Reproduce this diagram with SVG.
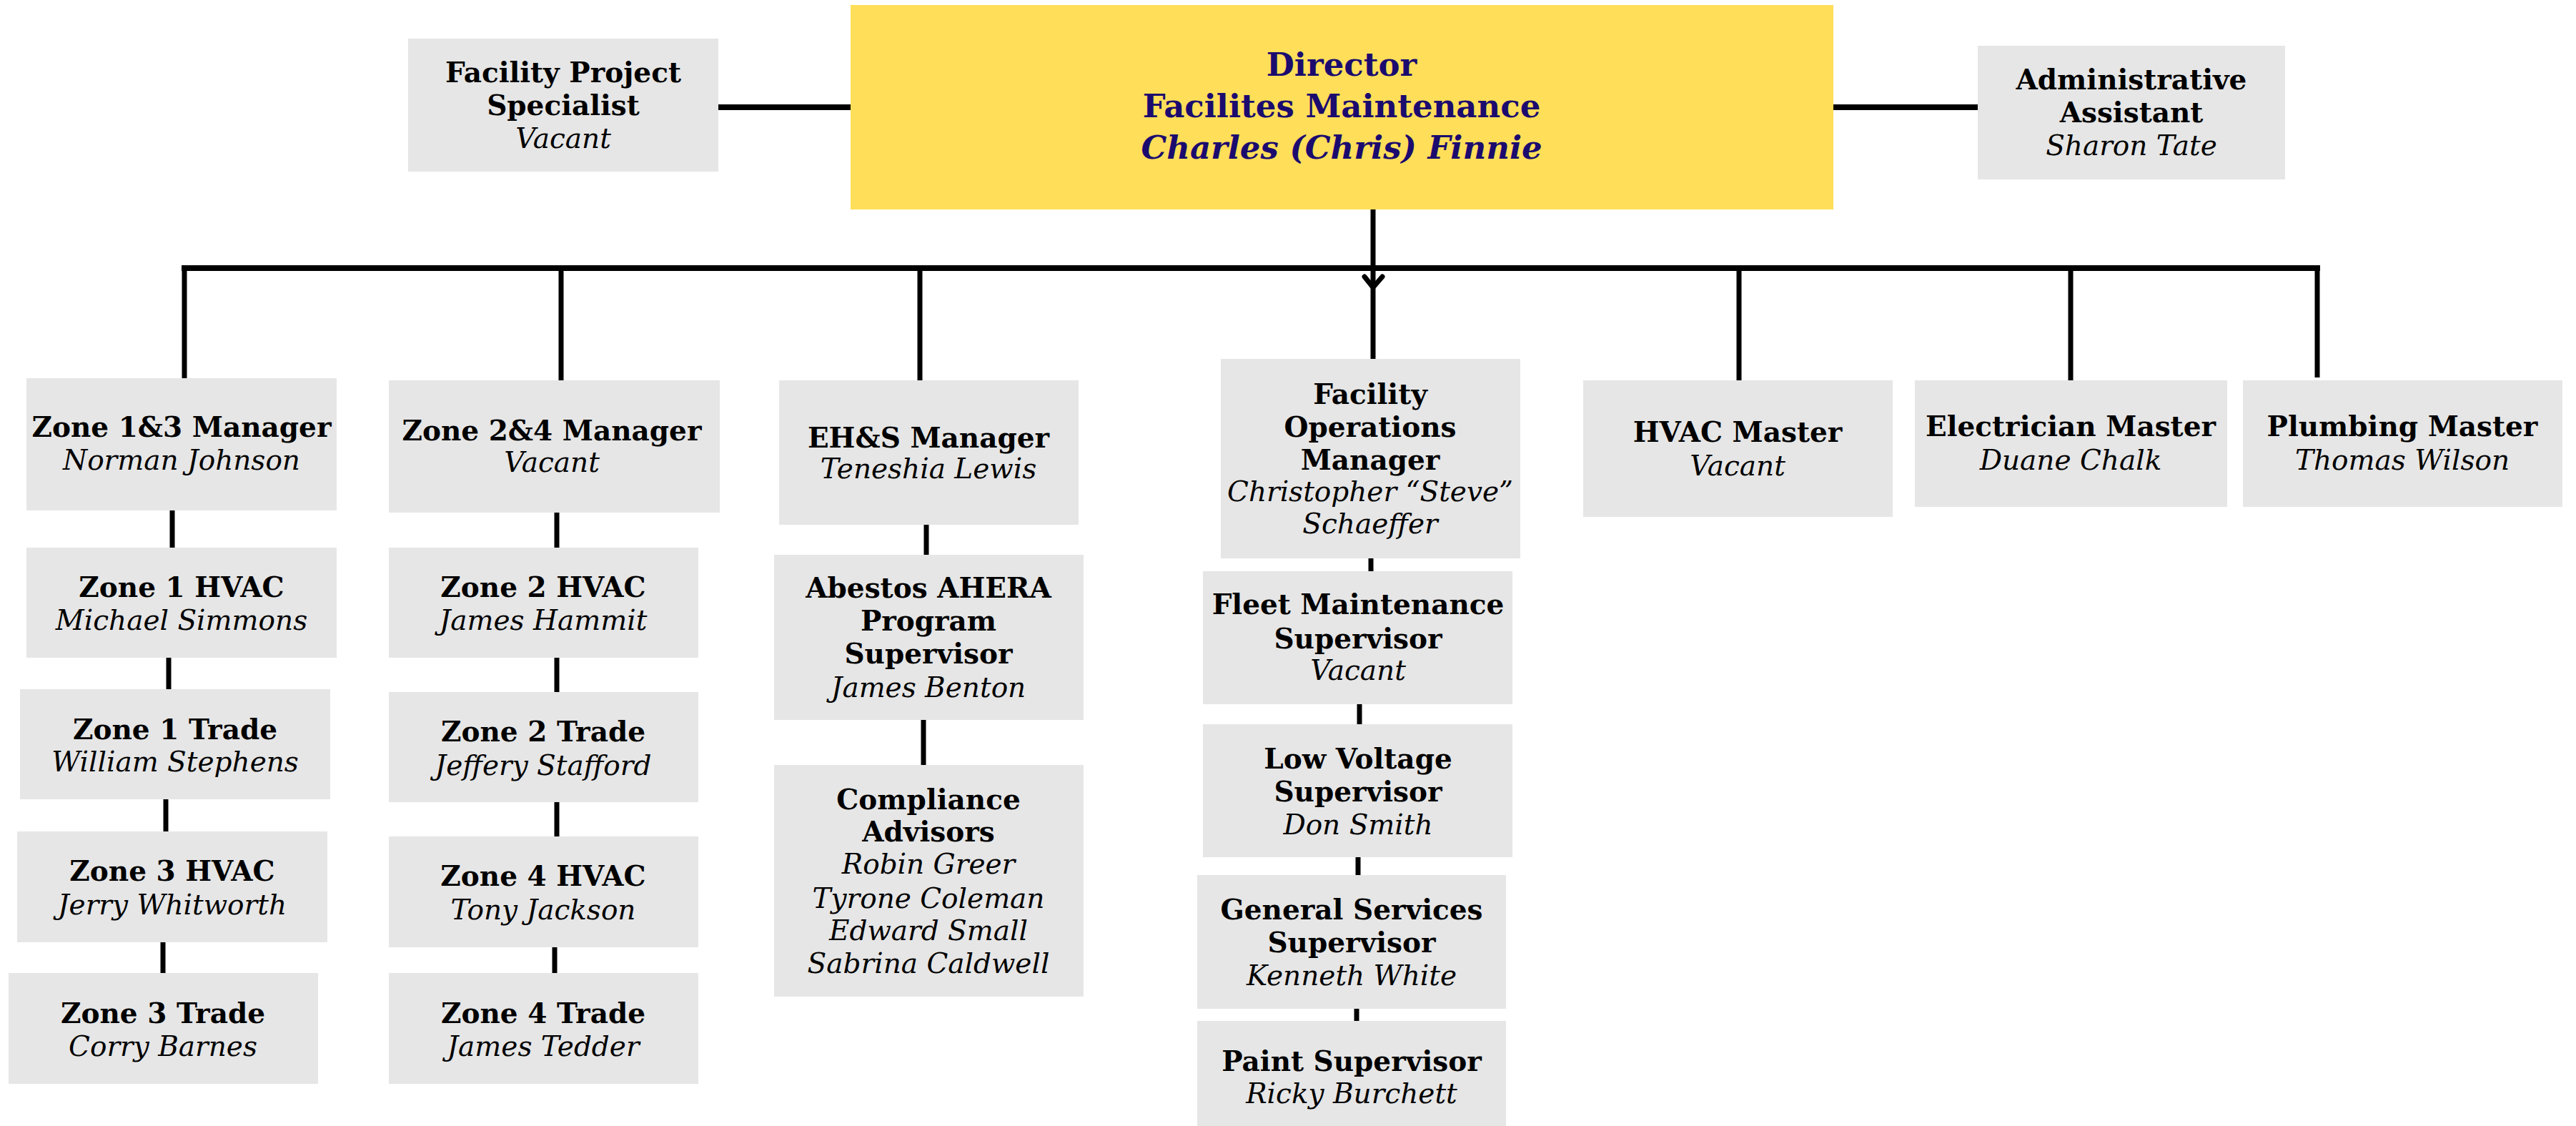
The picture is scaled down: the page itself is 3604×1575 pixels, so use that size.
<svg xmlns="http://www.w3.org/2000/svg" width="3604" height="1575" viewBox="0 0 3604 1575">
<style>
.box{fill:#e6e6e6}
.dir{fill:#ffde59}
text{font-family:'DejaVu Serif','Liberation Serif',serif;text-anchor:middle;fill:#000}
.b{font-weight:bold;font-size:39px}
.i{font-style:italic;font-size:39px}
.d{fill:#1b0b6e;font-weight:bold;font-size:45px}
.di{font-style:italic}
.c{stroke:#000;fill:none;stroke-width:7}
.k{stroke-width:8}
</style>
<rect width="3604" height="1575" fill="#fff"/>
<g id="connectors">
<line class="c k" x1="1005" y1="150" x2="1190" y2="150"/>
<line class="c k" x1="2565" y1="150" x2="2767" y2="150"/>
<line class="c k" x1="254" y1="375" x2="3246" y2="375"/>
<line class="c" x1="258" y1="371" x2="258" y2="529"/>
<line class="c" x1="785" y1="375" x2="785" y2="532"/>
<line class="c" x1="1287" y1="375" x2="1287" y2="532"/>
<line class="c" x1="2433" y1="375" x2="2433" y2="532"/>
<line class="c" x1="2897" y1="375" x2="2897" y2="532"/>
<line class="c" x1="3242" y1="371" x2="3242" y2="528"/>
<line class="c" x1="1921" y1="293" x2="1921" y2="502"/>
<polyline class="c" stroke-linecap="round" stroke-linejoin="round" points="1909,387 1921,402 1934,387"/>
<line class="c" x1="241" y1="714" x2="241" y2="766"/>
<line class="c" x1="236" y1="920" x2="236" y2="964"/>
<line class="c" x1="232" y1="1118" x2="232" y2="1163"/>
<line class="c" x1="228" y1="1318" x2="228" y2="1361"/>
<line class="c" x1="779" y1="717" x2="779" y2="766"/>
<line class="c" x1="779" y1="920" x2="779" y2="968"/>
<line class="c" x1="779" y1="1122" x2="779" y2="1170"/>
<line class="c" x1="776" y1="1325" x2="776" y2="1361"/>
<line class="c" x1="1296" y1="734" x2="1296" y2="776"/>
<line class="c" x1="1292" y1="1007" x2="1292" y2="1070"/>
<line class="c" x1="1918" y1="781" x2="1918" y2="799"/>
<line class="c" x1="1902" y1="985" x2="1902" y2="1013"/>
<line class="c" x1="1900" y1="1199" x2="1900" y2="1224"/>
<line class="c" x1="1898" y1="1411" x2="1898" y2="1428"/>
</g>
<g id="facility-project-specialist">
<rect class="box" x="571" y="54" width="434" height="186"/>
<text class="b" x="788" y="115">Facility Project</text>
<text class="b" x="788" y="161">Specialist</text>
<text class="i" x="788" y="207">Vacant</text>
</g>
<g id="director">
<rect class="dir" x="1190" y="7" width="1375" height="286"/>
<text class="d" x="1877" y="106">Director</text>
<text class="d" x="1877" y="164">Facilites Maintenance</text>
<text class="d di" x="1877" y="222">Charles (Chris) Finnie</text>
</g>
<g id="administrative-assistant">
<rect class="box" x="2767" y="64" width="430" height="187"/>
<text class="b" x="2982" y="125">Administrative</text>
<text class="b" x="2982" y="171">Assistant</text>
<text class="i" x="2982" y="217">Sharon Tate</text>
</g>
<g id="zone13-manager">
<rect class="box" x="37" y="529" width="434" height="185"/>
<text class="b" x="254" y="611">Zone 1&amp;3 Manager</text>
<text class="i" x="254" y="657">Norman Johnson</text>
</g>
<g id="zone1-hvac">
<rect class="box" x="37" y="766" width="434" height="154"/>
<text class="b" x="254" y="835">Zone 1 HVAC</text>
<text class="i" x="254" y="881">Michael Simmons</text>
</g>
<g id="zone1-trade">
<rect class="box" x="28" y="964" width="434" height="154"/>
<text class="b" x="245" y="1034">Zone 1 Trade</text>
<text class="i" x="245" y="1079">William Stephens</text>
</g>
<g id="zone3-hvac">
<rect class="box" x="24" y="1163" width="434" height="155"/>
<text class="b" x="241" y="1232">Zone 3 HVAC</text>
<text class="i" x="241" y="1279">Jerry Whitworth</text>
</g>
<g id="zone3-trade">
<rect class="box" x="12" y="1361" width="433" height="155"/>
<text class="b" x="228" y="1431">Zone 3 Trade</text>
<text class="i" x="228" y="1477">Corry Barnes</text>
</g>
<g id="zone24-manager">
<rect class="box" x="544" y="532" width="463" height="185"/>
<text class="b" x="772" y="616">Zone 2&amp;4 Manager</text>
<text class="i" x="772" y="660">Vacant</text>
</g>
<g id="zone2-hvac">
<rect class="box" x="544" y="766" width="433" height="154"/>
<text class="b" x="760" y="835">Zone 2 HVAC</text>
<text class="i" x="760" y="881">James Hammit</text>
</g>
<g id="zone2-trade">
<rect class="box" x="544" y="968" width="433" height="154"/>
<text class="b" x="760" y="1037">Zone 2 Trade</text>
<text class="i" x="760" y="1084">Jeffery Stafford</text>
</g>
<g id="zone4-hvac">
<rect class="box" x="544" y="1170" width="433" height="155"/>
<text class="b" x="760" y="1239">Zone 4 HVAC</text>
<text class="i" x="760" y="1286">Tony Jackson</text>
</g>
<g id="zone4-trade">
<rect class="box" x="544" y="1361" width="433" height="155"/>
<text class="b" x="760" y="1431">Zone 4 Trade</text>
<text class="i" x="760" y="1477">James Tedder</text>
</g>
<g id="ehs-manager">
<rect class="box" x="1090" y="532" width="419" height="202"/>
<text class="b" x="1299" y="626">EH&amp;S Manager</text>
<text class="i" x="1299" y="669">Teneshia Lewis</text>
</g>
<g id="abestos-supervisor">
<rect class="box" x="1083" y="776" width="433" height="231"/>
<text class="b" x="1299" y="836">Abestos AHERA</text>
<text class="b" x="1299" y="882">Program</text>
<text class="b" x="1299" y="928">Supervisor</text>
<text class="i" x="1299" y="975">James Benton</text>
</g>
<g id="compliance-advisors">
<rect class="box" x="1083" y="1070" width="433" height="324"/>
<text class="b" x="1299" y="1132">Compliance</text>
<text class="b" x="1299" y="1177">Advisors</text>
<text class="i" x="1299" y="1222">Robin Greer</text>
<text class="i" x="1299" y="1270">Tyrone Coleman</text>
<text class="i" x="1299" y="1315">Edward Small</text>
<text class="i" x="1299" y="1361">Sabrina Caldwell</text>
</g>
<g id="facility-operations-manager">
<rect class="box" x="1708" y="502" width="419" height="279"/>
<text class="b" x="1917" y="565">Facility</text>
<text class="b" x="1917" y="611">Operations</text>
<text class="b" x="1917" y="657">Manager</text>
<text class="i" x="1917" y="701">Christopher “Steve”</text>
<text class="i" x="1917" y="746">Schaeffer</text>
</g>
<g id="fleet-maintenance-supervisor">
<rect class="box" x="1683" y="799" width="433" height="186"/>
<text class="b" x="1900" y="859">Fleet Maintenance</text>
<text class="b" x="1900" y="907">Supervisor</text>
<text class="i" x="1900" y="951">Vacant</text>
</g>
<g id="low-voltage-supervisor">
<rect class="box" x="1683" y="1013" width="433" height="186"/>
<text class="b" x="1900" y="1075">Low Voltage</text>
<text class="b" x="1900" y="1121">Supervisor</text>
<text class="i" x="1900" y="1167">Don Smith</text>
</g>
<g id="general-services-supervisor">
<rect class="box" x="1675" y="1224" width="432" height="187"/>
<text class="b" x="1891" y="1286">General Services</text>
<text class="b" x="1891" y="1332">Supervisor</text>
<text class="i" x="1891" y="1378">Kenneth White</text>
</g>
<g id="paint-supervisor">
<rect class="box" x="1675" y="1428" width="432" height="147"/>
<text class="b" x="1891" y="1498">Paint Supervisor</text>
<text class="i" x="1891" y="1543">Ricky Burchett</text>
</g>
<g id="hvac-master">
<rect class="box" x="2215" y="532" width="433" height="191"/>
<text class="b" x="2431" y="618">HVAC Master</text>
<text class="i" x="2431" y="665">Vacant</text>
</g>
<g id="electrician-master">
<rect class="box" x="2679" y="532" width="437" height="177"/>
<text class="b" x="2897" y="610">Electrician Master</text>
<text class="i" x="2897" y="657">Duane Chalk</text>
</g>
<g id="plumbing-master">
<rect class="box" x="3138" y="532" width="447" height="177"/>
<text class="b" x="3361" y="610">Plumbing Master</text>
<text class="i" x="3361" y="657">Thomas Wilson</text>
</g>
</svg>
